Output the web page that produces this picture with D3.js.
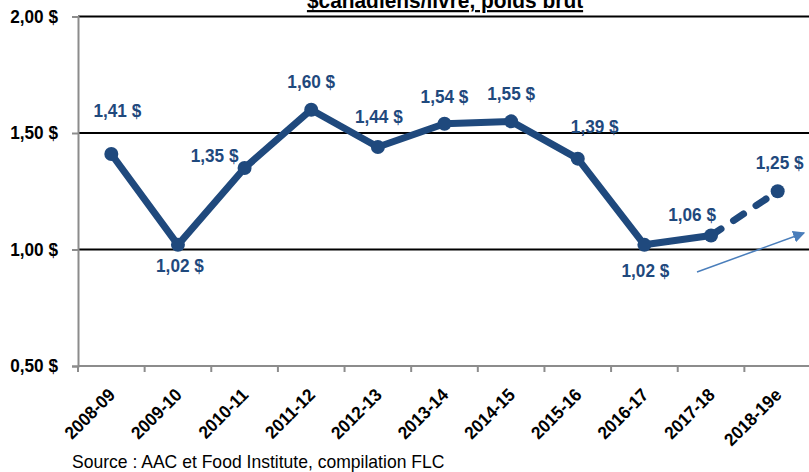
<!DOCTYPE html>
<html><head><meta charset="utf-8">
<script src="https://cdn.jsdelivr.net/npm/d3@7"></script>
<style>
html,body{margin:0;padding:0;background:#fff;}
svg{display:block;}
</style></head>
<body>
<script>
const categories = ["2008-09","2009-10","2010-11","2011-12","2012-13","2013-14","2014-15","2015-16","2016-17","2017-18","2018-19e"];
const values = [1.41,1.02,1.35,1.60,1.44,1.54,1.55,1.39,1.02,1.06,1.25];
const valueLabels = ["1,41 $","1,02 $","1,35 $","1,60 $","1,44 $","1,54 $","1,55 $","1,39 $","1,02 $","1,06 $","1,25 $"];
const yTicks = [0.5,1.0,1.5,2.0];
const yTickLabels = ["0,50 $","1,00 $","1,50 $","2,00 $"];
const titleText = "$canadiens/livre, poids brut";
const sourceText = "Source : AAC et Food Institute, compilation FLC";

// label offsets (style only)
const labelOffsets = [[6,-37],[2,27],[-30,-6],[0,-22],[1,-24],[0,-21],[0,-21],[17,-26],[1,32],[-19,-15],[2,-22]];

const W=809,H=472;
const FONT = "'Liberation Sans',Arial,sans-serif";
const svg=d3.select("body").append("svg").attr("width",W).attr("height",H);

const x=d3.scaleBand().domain(categories).range([78,811]);
const y=d3.scaleLinear().domain([0.5,2]).range([366,16.5]);
const cx=d=>x(d)+x.bandwidth()/2;

// title
svg.append("text").attr("transform","translate(445,8) scale(0.95,1)").attr("text-anchor","middle")
  .attr("font-family",FONT).attr("font-weight","bold").attr("font-size",22)
  .attr("text-decoration","underline").attr("fill","#000").text(titleText);

// gridlines
svg.append("g").selectAll("line").data(yTicks.filter(v=>v>0.5)).join("line")
  .attr("x1",78).attr("x2",W).attr("y1",d=>y(d)).attr("y2",d=>y(d))
  .attr("stroke","#000").attr("stroke-width",2);

// y axis
const yAxis=d3.axisLeft(y).tickValues(yTicks).tickSize(6).tickFormat((d,i)=>yTickLabels[i]);
const gy=svg.append("g").attr("transform","translate(78,0)").call(yAxis);
gy.select(".domain").attr("stroke","#8c8c8c").attr("stroke-width",2);
gy.selectAll(".tick line").attr("stroke","#8c8c8c").attr("stroke-width",2);
gy.selectAll(".tick text").attr("x",0).attr("transform","translate(-20,0) scale(0.93,1)")
  .attr("font-family",FONT).attr("font-weight","bold")
  .attr("font-size",18.5).attr("fill","#000");

// x axis
const xAxis=d3.axisBottom(x).tickSize(0).tickSizeOuter(0);
const gx=svg.append("g").attr("transform","translate(0,366)").call(xAxis);
gx.select(".domain").attr("stroke","#8c8c8c").attr("stroke-width",2).attr("d","M78,0H"+W);
gx.selectAll(".tick text").attr("font-family",FONT).attr("font-weight","bold").attr("font-size",18)
  .attr("fill","#000").attr("text-anchor","end")
  .attr("transform","translate(5,30) rotate(-45) scale(0.95,1)").attr("y",0).attr("dy",0);
// category boundary ticks
svg.append("g").selectAll("line").data(categories).join("line")
  .attr("x1",d=>x(d)).attr("x2",d=>x(d)).attr("y1",366).attr("y2",372)
  .attr("stroke","#8c8c8c").attr("stroke-width",2);

const color="#1f497d";
const pts=categories.map((c,i)=>({c,v:values[i],i}));
const line=d3.line().x(d=>cx(d.c)).y(d=>y(d.v));
svg.append("path").datum(pts.slice(0,10)).attr("d",line).attr("fill","none")
  .attr("stroke",color).attr("stroke-width",7).attr("stroke-linejoin","round");
svg.append("path").datum(pts.slice(9)).attr("d",line).attr("fill","none")
  .attr("stroke",color).attr("stroke-width",7).attr("stroke-linecap","round")
  .attr("stroke-dasharray","12,15");
svg.append("g").selectAll("circle").data(pts).join("circle")
  .attr("cx",d=>cx(d.c)).attr("cy",d=>y(d.v)).attr("r",7).attr("fill",color);

svg.append("g").selectAll("text").data(pts).join("text")
  .attr("transform",d=>`translate(${cx(d.c)+labelOffsets[d.i][0]},${y(d.v)+labelOffsets[d.i][1]}) scale(0.93,1)`)
  .attr("text-anchor","middle").attr("font-family",FONT).attr("font-weight","bold")
  .attr("font-size",18.5).attr("fill",color).text(d=>valueLabels[d.i]);

// arrow
const defs=svg.append("defs");
defs.append("marker").attr("id","ah").attr("viewBox","0 0 10 10").attr("refX",9).attr("refY",5)
  .attr("markerWidth",8).attr("markerHeight",8).attr("orient","auto")
  .append("path").attr("d","M0,0L10,5L0,10Z").attr("fill","#4a7ebb");
svg.append("line").attr("x1",697).attr("y1",272).attr("x2",804).attr("y2",233)
  .attr("stroke","#4a7ebb").attr("stroke-width",1.5).attr("marker-end","url(#ah)");

svg.append("text").attr("transform","translate(72,468) scale(0.975,1)").attr("font-family",FONT).attr("font-size",18)
  .attr("fill","#000").text(sourceText);
</script>
</body></html>
